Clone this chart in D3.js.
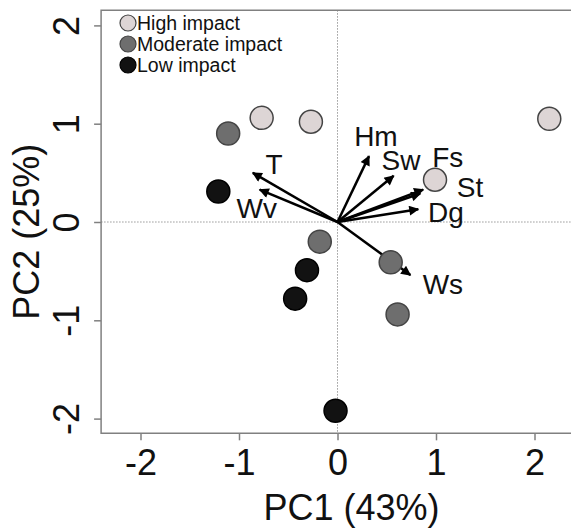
<!DOCTYPE html>
<html>
<head>
<meta charset="utf-8">
<script src="https://cdn.jsdelivr.net/npm/d3@7"></script>
<style>
  body { margin: 0; background: #fff; }
  text { font-family: "Liberation Sans", Arial, sans-serif; fill: #111; }
</style>
</head>
<body>
<script>
// sample scores
var groups = ['High impact', 'Moderate impact', 'Low impact']
var groupColors = ['#ddd5d5', '#6e6e6e', '#121212']
var pc1 = [-0.77, -0.27, 2.15, 0.99, -1.11, -0.18, 0.54, 0.61, -1.21, -0.31, -0.43, -0.02]
var pc2 = [1.06, 1.02, 1.05, 0.43, 0.90, -0.20, -0.41, -0.94, 0.31, -0.49, -0.78, -1.92]
var grp = [0, 0, 0, 0, 1, 1, 1, 1, 2, 2, 2, 2]

// variable loadings
var vars = ['Hm', 'Sw', 'Fs', 'St', 'Dg', 'Ws', 'T', 'Wv']
var load1 = [0.32, 0.57, 0.87, 0.84, 0.82, 0.74, -0.86, -0.79]
var load2 = [0.67, 0.47, 0.33, 0.29, 0.13, -0.54, 0.50, 0.33]
var lab1 = [0.39, 0.645, 1.12, 1.345, 1.10, 1.07, -0.645, -0.82]
var lab2 = [0.87, 0.63, 0.66, 0.35, 0.10, -0.64, 0.58, 0.14]

var ticks = [-2, -1, 0, 1, 2]

var width = 571, height = 528

var x = d3.scaleLinear().domain([-2, 2]).range([140.5, 534.5])
var y = d3.scaleLinear().domain([-2, 2]).range([418.6, 25.4])

var boxL = x(-2.4), boxR = x(2.45), boxT = y(2.155), boxB = y(-2.15)

var svg = d3.select('body').append('svg').attr('width', width).attr('height', height)

var defs = svg.append('defs')
defs.append('marker')
	.attr('id', 'arr')
	.attr('viewBox', '0 0 10 10')
	.attr('refX', 9).attr('refY', 5)
	.attr('markerWidth', 4.5).attr('markerHeight', 4)
	.attr('markerUnits', 'strokeWidth')
	.attr('orient', 'auto')
	.append('path').attr('d', 'M0,0 L10,5 L0,10 z').attr('fill', '#000')

// reference lines
svg.append('line')
	.attr('x1', x(0)).attr('x2', x(0)).attr('y1', boxT).attr('y2', boxB)
	.attr('stroke', '#999').attr('stroke-width', 1).attr('stroke-dasharray', '1.5,1.5')
svg.append('line')
	.attr('x1', boxL).attr('x2', boxR).attr('y1', y(0)).attr('y2', y(0))
	.attr('stroke', '#999').attr('stroke-width', 1).attr('stroke-dasharray', '1.5,1.5')

// box
svg.append('path')
	.attr('d', 'M' + boxR + ',' + boxT + ' L' + boxL + ',' + boxT + ' L' + boxL + ',' + boxB + ' L' + boxR + ',' + boxB)
	.attr('fill', 'none').attr('stroke', '#808080').attr('stroke-width', 1.5)

// axes
var xAxis = d3.axisBottom(x).tickValues(ticks).tickSize(7).tickSizeOuter(0).tickFormat(d3.format('d'))
var gx = svg.append('g').attr('transform', 'translate(0,' + boxB + ')').call(xAxis)
gx.select('.domain').remove()
gx.selectAll('line').attr('stroke', '#808080').attr('stroke-width', 1.5)
gx.selectAll('text').attr('font-size', 36).attr('dy', null).attr('y', 42).attr('fill', '#111')
	.text((d) => d < 0 ? '-' + Math.abs(d) : d)

var yAxis = d3.axisLeft(y).tickValues(ticks).tickSize(7).tickSizeOuter(0)
var gy = svg.append('g').attr('transform', 'translate(' + boxL + ',0)').call(yAxis)
gy.select('.domain').remove()
gy.selectAll('line').attr('stroke', '#808080').attr('stroke-width', 1.5)
gy.selectAll('text').remove()
gy.selectAll('.tick').append('text')
	.attr('transform', 'translate(-22,0) rotate(-90)')
	.attr('text-anchor', 'middle')
	.attr('font-size', 36)
	.attr('fill', '#111')
	.text((d) => d < 0 ? '-' + Math.abs(d) : d)

// axis titles
svg.append('text')
	.attr('x', x(0) + 14).attr('y', 520)
	.attr('text-anchor', 'middle').attr('font-size', 36)
	.text('PC1 (43%)')
svg.append('text')
	.attr('transform', 'translate(39,' + y(-0.1) + ') rotate(-90)')
	.attr('text-anchor', 'middle').attr('font-size', 36)
	.text('PC2 (25%)')

// arrows
svg.append('g').selectAll('line').data(vars).enter().append('line')
	.attr('x1', x(0)).attr('y1', y(0))
	.attr('x2', (d, i) => x(load1[i])).attr('y2', (d, i) => y(load2[i]))
	.attr('stroke', '#000').attr('stroke-width', 2.5)
	.attr('marker-end', 'url(#arr)')

svg.append('g').selectAll('text').data(vars).enter().append('text')
	.attr('x', (d, i) => x(lab1[i])).attr('y', (d, i) => y(lab2[i]))
	.attr('text-anchor', 'middle').attr('dominant-baseline', 'central')
	.attr('font-size', 28)
	.text((d) => d)

// points
svg.append('g').selectAll('circle').data(pc1).enter().append('circle')
	.attr('cx', (d) => x(d))
	.attr('cy', (d, i) => y(pc2[i]))
	.attr('r', 11.5)
	.attr('fill', (d, i) => groupColors[grp[i]])
	.attr('stroke', (d, i) => grp[i] == 2 ? '#000' : '#444')
	.attr('stroke-width', 1.5)

// legend
var leg = svg.append('g').selectAll('g').data(groups).enter().append('g')
	.attr('transform', (d, i) => 'translate(128,' + (23 + i * 21) + ')')
leg.append('circle').attr('r', 8)
	.attr('fill', (d, i) => groupColors[i])
	.attr('stroke', (d, i) => i == 2 ? '#000' : '#444').attr('stroke-width', 1.2)
leg.append('text').attr('x', 9).attr('dominant-baseline', 'central')
	.attr('font-size', 19.5)
	.text((d) => d)
</script>
</body>
</html>
